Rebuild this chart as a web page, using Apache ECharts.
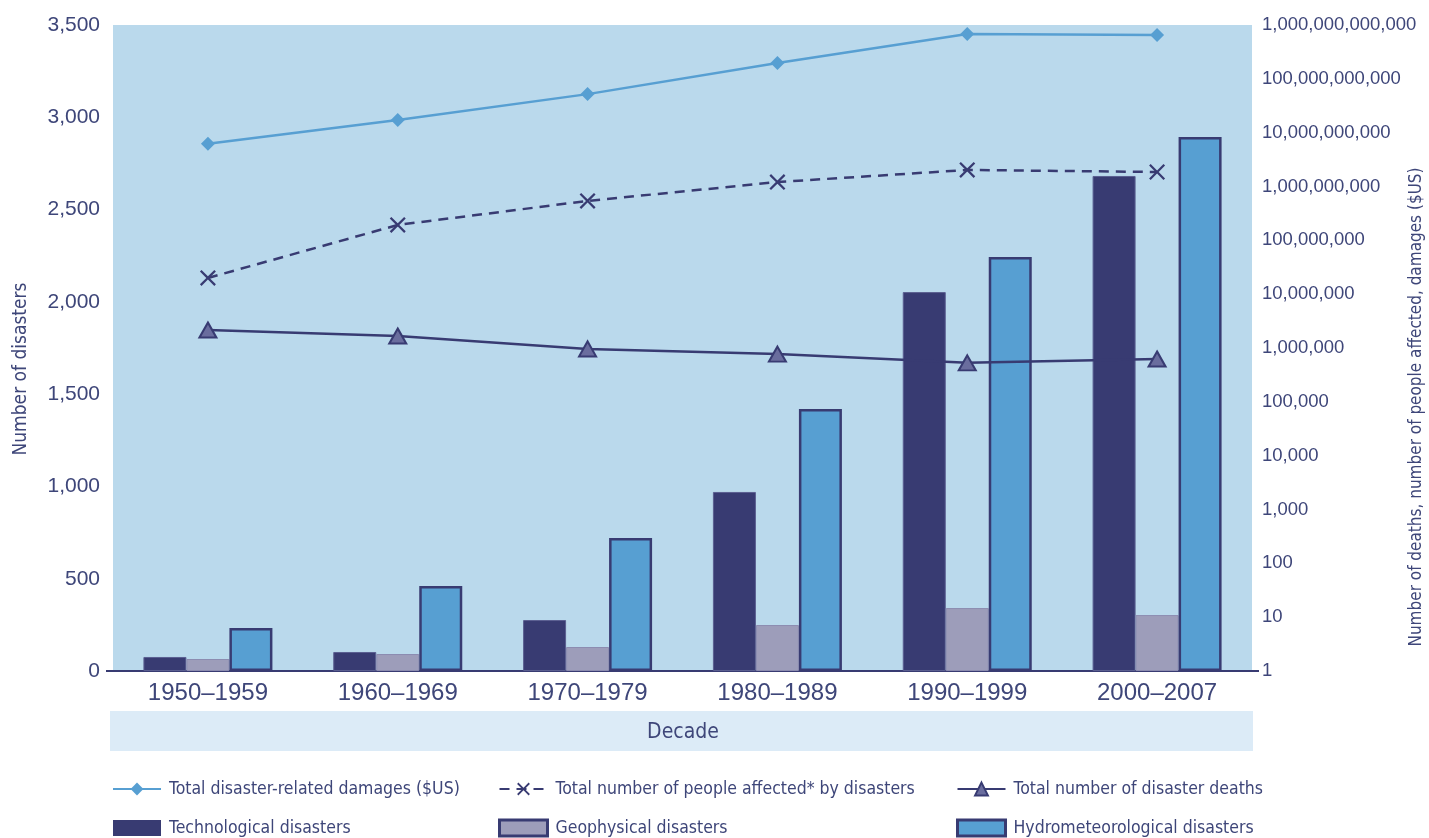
<!DOCTYPE html>
<html><head><meta charset="utf-8">
<script src="https://cdn.jsdelivr.net/npm/echarts@6/dist/echarts.min.js"></script>
<style>html,body{margin:0;padding:0;background:#fff}#c{width:1429px;height:838px}</style>
</head><body><div id="c"></div>
<script>
const decades = ['1950–1959','1960–1969','1970–1979','1980–1989','1990–1999','2000–2007'];
const technological = [76, 103, 276, 970, 2053, 2682];
const geophysical = [65, 92, 130, 249, 341, 303];
const hydrometeorological = [233, 460, 720, 1420, 2243, 2893];
const damages = [6.2e9, 1.72e10, 5.2e10, 1.97e11, 6.8e11, 6.5e11];
const affected = [2.0e7, 1.93e8, 5.4e8, 1.21e9, 2.03e9, 1.86e9];
const deaths = [2.16e6, 1.67e6, 9.6e5, 7.7e5, 5.3e5, 6.25e5];

const NAVY = '#383b72', TEXT = '#3e4679', GEO = '#9d9dba', HYDRO = '#579fd2', BG = '#bad9ec';
const COND = '"DejaVu Sans Condensed","Liberation Sans",sans-serif';
const REG = '"Liberation Sans",Arial,sans-serif';
const crossPath = 'path://M0,1 L1,0 L5,4 L9,0 L10,1 L6,5 L10,9 L9,10 L5,6 L1,10 L0,9 L4,5 Z';

function legendCfg(left, names, barStyle){
  return {orient:'vertical', left:left, top:779, height:90, padding:0, itemWidth:48, itemHeight:16, itemGap:19,
    textStyle:{color:TEXT, fontFamily:COND, fontSize:17.5, lineHeight:20, padding:[0,0,0,3]}, selectedMode:false,
    data:[{name:names[0]},{name:names[1], icon:'rect', itemStyle:barStyle}]};
}
const chart = echarts.init(document.getElementById('c'));
chart.setOption({
  animation:false,
  grid:{left:113, right:177, top:25, bottom:167, show:true, backgroundColor:BG, borderWidth:0, outerBoundsMode:'none', containLabel:false},
  xAxis:{type:'category', data:decades,
    axisLine:{lineStyle:{color:NAVY, width:2}}, axisTick:{show:false},
    axisLabel:{color:TEXT, fontFamily:REG, fontSize:24, margin:10}},
  yAxis:[
    {type:'value', min:0, max:3500, interval:500, splitLine:{show:false},
     axisLine:{show:false}, axisTick:{show:true, customValues:[0], length:7, lineStyle:{color:NAVY, width:2}},
     axisLabel:{color:TEXT, fontFamily:REG, fontSize:21, margin:13,
       formatter:v=>Number(v).toLocaleString('en-US')},
     name:'Number of disasters', nameLocation:'middle', nameGap:82, nameMoveOverlap:false,
     nameTextStyle:{color:TEXT, fontFamily:COND, fontSize:19, padding:[0,42,0,0]}},
    {type:'log', logBase:10, min:1, max:1e12, interval:1, position:'right',
     splitLine:{show:false}, axisLine:{show:false}, axisTick:{show:true, customValues:[1], length:7, lineStyle:{color:NAVY, width:2}},
     axisLabel:{color:TEXT, fontFamily:REG, fontSize:18.5, margin:10, interval:0,
       formatter:v=>Math.round(v).toLocaleString('en-US')},
     name:'Number of deaths, number of people affected, damages ($US)', nameLocation:'middle', nameGap:156, nameMoveOverlap:false,
     nameTextStyle:{color:TEXT, fontFamily:COND, fontSize:17, padding:[0,118,0,0]}}
  ],
  legend:[
    legendCfg(112, ['Total disaster-related damages ($US)','Technological disasters'], {borderWidth:0}),
    legendCfg(498, ['Total number of people affected* by disasters','Geophysical disasters'], {borderColor:NAVY, borderWidth:3}),
    legendCfg(956, ['Total number of disaster deaths','Hydrometeorological disasters'], {borderColor:NAVY, borderWidth:3})
  ],
  graphic:[
    {type:'rect', shape:{x:110, y:711, width:1143, height:40}, style:{fill:'#dcebf7'}, silent:true},
    {type:'text', x:683, y:733, style:{text:'Decade', fill:TEXT, font:'21px '+COND, textAlign:'center', textVerticalAlign:'middle'}, silent:true}
  ],
  series:[
    {name:'Technological disasters', type:'bar', data:technological, barWidth:43, barGap:'0%',
     itemStyle:{color:NAVY, borderColor:'#5b5f91', borderWidth:1}},
    {name:'Geophysical disasters', type:'bar', data:geophysical, barWidth:43, barGap:'0%',
     itemStyle:{color:GEO, borderColor:'#8c8cb0', borderWidth:1}},
    {name:'Hydrometeorological disasters', type:'bar', data:hydrometeorological, barWidth:43, barGap:'0%',
     itemStyle:{color:HYDRO, borderColor:NAVY, borderWidth:2.5}},
    {name:'Total disaster-related damages ($US)', type:'line', yAxisIndex:1, data:damages,
     symbol:'diamond', symbolSize:14, lineStyle:{color:HYDRO, width:2.5}, itemStyle:{color:HYDRO}},
    {name:'Total number of people affected* by disasters', type:'line', yAxisIndex:1, data:affected,
     symbol:crossPath, symbolSize:16, lineStyle:{color:NAVY, width:2.5, type:[10,7]}, itemStyle:{color:NAVY}},
    {name:'Total number of disaster deaths', type:'line', yAxisIndex:1, data:deaths,
     symbol:'triangle', symbolSize:[17,15], lineStyle:{color:NAVY, width:2.5},
     itemStyle:{color:'#6a6d9e', borderColor:NAVY, borderWidth:2}}
  ]
});
</script></body></html>
